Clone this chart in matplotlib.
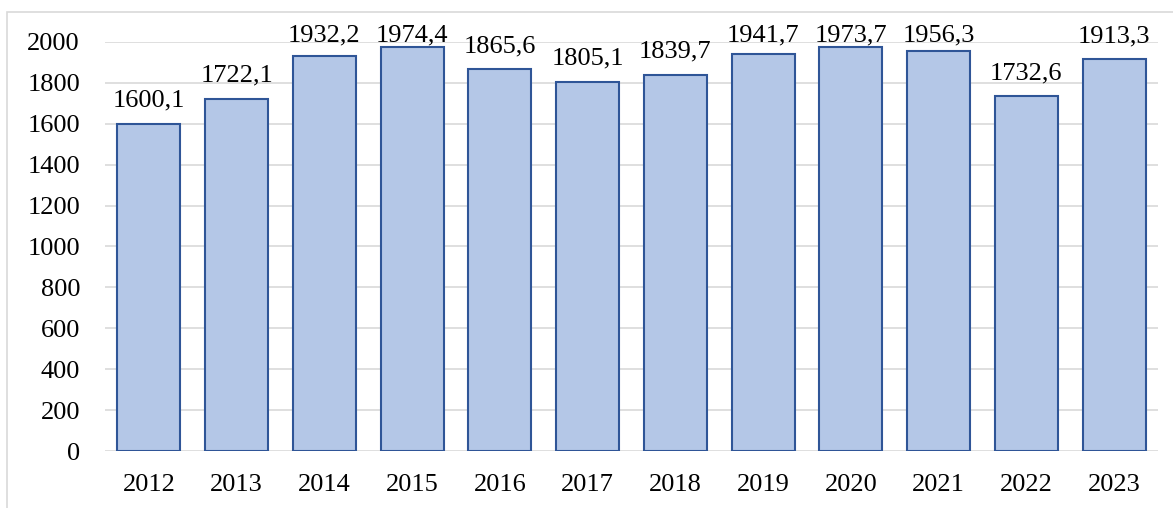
import matplotlib.pyplot as plt
from matplotlib.patches import Rectangle

years = ["2012", "2013", "2014", "2015", "2016", "2017",
         "2018", "2019", "2020", "2021", "2022", "2023"]
values = [1600.1, 1722.1, 1932.2, 1974.4, 1865.6, 1805.1,
          1839.7, 1941.7, 1973.7, 1956.3, 1732.6, 1913.3]
yticks = [0, 200, 400, 600, 800, 1000, 1200, 1400, 1600, 1800, 2000]


def fmt(v):
    return f"{v:.1f}".replace(".", ",")


def main():
    plt.rcParams["font.family"] = ["Liberation Serif", "DejaVu Serif"]
    fig = plt.figure(figsize=(11.73, 5.08), dpi=100)

    # outer chart border (cut off at right and bottom)
    top = 1 - 12 / 508
    fig.patches.append(Rectangle((7 / 1173, -0.2), 1.2, top + 0.2,
                                 transform=fig.transFigure, fill=False,
                                 edgecolor="#d9d9d9", linewidth=1.2))

    ax = fig.add_axes([105 / 1173, 1 - 451.3 / 508, 1053 / 1173, 409.6 / 508])
    x = range(len(years))
    ax.bar(x, values, width=0.72, color="#b4c7e7", edgecolor="#2f5597",
           linewidth=1.5, zorder=3)

    for i, v in enumerate(values):
        ypos = min(v + 83, 2000)
        ax.text(i, ypos, fmt(v), ha="center", va="baseline", fontsize=19,
                zorder=4, clip_on=False)

    ax.set_xlim(-0.5, len(years) - 0.5)
    ax.set_ylim(0, 2000)
    ax.set_yticks(yticks)
    ax.set_xticks(list(x))
    ax.set_xticklabels(years)
    ax.tick_params(axis="both", length=0, labelsize=19)
    ax.tick_params(axis="y", pad=18)
    ax.tick_params(axis="x", pad=16)
    ax.grid(axis="y", color="#d9d9d9", linewidth=1.2, zorder=0)
    for s in ax.spines.values():
        s.set_visible(False)

    fig.savefig("out.png", dpi=100)


if __name__ == '__main__':
    main()
